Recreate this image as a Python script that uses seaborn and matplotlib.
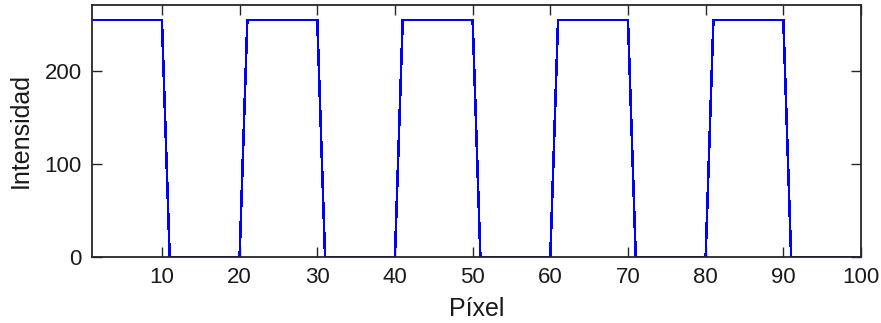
import numpy as np
import pandas as pd
import seaborn as sns
import matplotlib
matplotlib.use("Agg")
import matplotlib.pyplot as plt

# Pixel index along the scan line and the intensity read at each pixel
pixel = list(range(1, 101))
intensity = [
    255, 255, 255, 255, 255, 255, 255, 255, 255, 255,
    0, 0, 0, 0, 0, 0, 0, 0, 0, 0,
    255, 255, 255, 255, 255, 255, 255, 255, 255, 255,
    0, 0, 0, 0, 0, 0, 0, 0, 0, 0,
    255, 255, 255, 255, 255, 255, 255, 255, 255, 255,
    0, 0, 0, 0, 0, 0, 0, 0, 0, 0,
    255, 255, 255, 255, 255, 255, 255, 255, 255, 255,
    0, 0, 0, 0, 0, 0, 0, 0, 0, 0,
    255, 255, 255, 255, 255, 255, 255, 255, 255, 255,
    0, 0, 0, 0, 0, 0, 0, 0, 0, 0,
]
x_ticks = [10, 20, 30, 40, 50, 60, 70, 80, 90, 100]
y_ticks = [0, 100, 200]

sns.set_style("ticks")
plt.rcParams["font.family"] = ["Liberation Sans", "DejaVu Sans"]

df = pd.DataFrame({"Píxel": pixel, "Intensidad": intensity})

fig = plt.figure(figsize=(8.81, 3.23), dpi=100)
ax = fig.add_axes([92 / 881, 66 / 323, 769 / 881, 252 / 323])

sns.lineplot(data=df, x="Píxel", y="Intensidad", ax=ax, color="#0000ff",
             linewidth=1.1, antialiased=False, zorder=1)

ax.set_xlim(1, 100)
ax.set_ylim(0, 271)
ax.set_xticks(x_ticks)
ax.set_yticks(y_ticks)
ax.tick_params(direction="in", length=7, width=1, top=True, right=True,
               labelsize=16, colors="#262626", labelcolor="#1a1a1a", pad=7.5)
for s in ax.spines.values():
    s.set_visible(True)
    s.set_linewidth(1.3)
    s.set_color("#262626")
    s.set_zorder(3)

ax.set_xlabel("Píxel", fontsize=18, color="#1a1a1a", labelpad=6)
ax.set_ylabel("Intensidad", fontsize=18, color="#1a1a1a", labelpad=8)

fig.savefig("out.png", dpi=100)
